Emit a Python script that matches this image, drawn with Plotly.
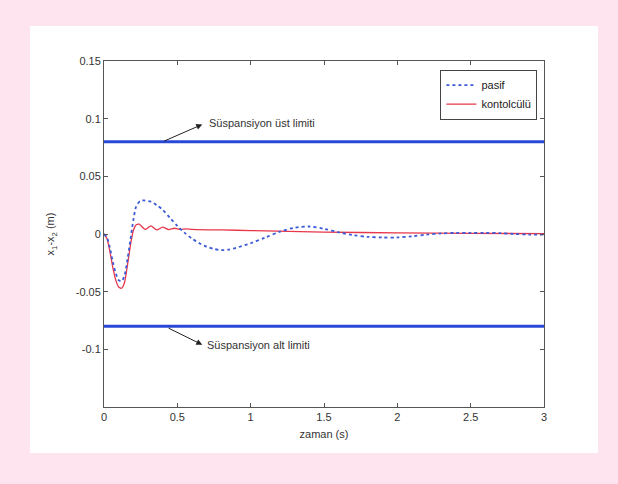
import plotly.graph_objects as go

# ---- data ----
t_pasif = [0, 0.02, 0.04, 0.06, 0.08, 0.10, 0.12, 0.14, 0.16, 0.18, 0.20, 0.22, 0.25, 0.28,
           0.32, 0.36, 0.40, 0.45, 0.50, 0.55, 0.60, 0.65, 0.70, 0.75, 0.80, 0.85, 0.90,
           1.0, 1.1, 1.2, 1.3, 1.4, 1.5, 1.6, 1.7, 1.8, 1.9, 2.0, 2.1, 2.2, 2.3, 2.4,
           2.5, 2.6, 2.7, 2.8, 2.9, 3.0]
pasif = [0, -0.003, -0.012, -0.024, -0.034, -0.040, -0.041, -0.036, -0.022, -0.005, 0.012,
         0.024, 0.029, 0.029, 0.028, 0.025, 0.021, 0.014, 0.007, 0.001, -0.004, -0.008,
         -0.011, -0.013, -0.014, -0.0135, -0.012, -0.008, -0.003, 0.002, 0.0055, 0.0065,
         0.0045, 0.0015, -0.001, -0.0025, -0.003, -0.003, -0.002, -0.0005, 0.0005, 0.001,
         0.001, 0.001, 0.0008, 0.0, -0.0005, -0.0005]

t_kontrol = [0, 0.02, 0.04, 0.06, 0.08, 0.10, 0.12, 0.14, 0.16, 0.18, 0.20, 0.22, 0.24,
             0.28, 0.32, 0.36, 0.40, 0.44, 0.48, 0.52, 0.56, 0.6, 0.8, 1.0, 1.5, 2.0,
             2.5, 3.0]
kontrol = [0, -0.004, -0.015, -0.029, -0.040, -0.046, -0.047, -0.042, -0.027, -0.010,
           0.003, 0.008, 0.0085, 0.004, 0.007, 0.0035, 0.006, 0.0038, 0.005, 0.004,
           0.0045, 0.004, 0.0035, 0.003, 0.0017, 0.001, 0.0006, 0.0003]

t_limit = [0, 3]
ust_limit = [0.08, 0.08]
alt_limit = [-0.08, -0.08]

y_ticks = [0.15, 0.1, 0.05, 0, -0.05, -0.1]
y_tick_text = ["0.15", "0.1", "0.05", "0", "-0.05", "-0.1"]
x_ticks = [0, 0.5, 1, 1.5, 2, 2.5, 3]
x_tick_text = ["0", "0.5", "1", "1.5", "2", "2.5", "3"]

FONT = "Liberation Sans, Arial, sans-serif"
AX = "#555555"
PINK = "#fde4ee"

fig = go.Figure()
fig.add_trace(go.Scatter(x=t_limit, y=ust_limit, mode="lines",
                         line=dict(color="#2a48d6", width=3), showlegend=False))
fig.add_trace(go.Scatter(x=t_limit, y=alt_limit, mode="lines",
                         line=dict(color="#2a48d6", width=3), showlegend=False))
fig.add_trace(go.Scatter(x=t_kontrol, y=kontrol, mode="lines", name="kontolcülü",
                         line=dict(color="#e8374a", width=1.3, shape="spline", smoothing=0.6)))
fig.add_trace(go.Scatter(x=t_pasif, y=pasif, mode="lines", name="pasif",
                         line=dict(color="#3a5ad8", width=1.8, dash="dot",
                                   shape="spline", smoothing=0.8)))

# white panel behind the axes
fig.add_shape(type="rect", xref="paper", yref="paper",
              x0=(30 - 104) / 440, x1=(598 - 104) / 440,
              y0=(407 - 453) / 346, y1=(407 - 26) / 346,
              fillcolor="white", line=dict(width=0), layer="below")

# arrows
fig.add_annotation(x=0.67, y=0.095, ax=0.40, ay=0.08, xref="x", yref="y",
                   axref="x", ayref="y", text="", showarrow=True,
                   arrowhead=2, arrowsize=1.2, arrowwidth=1, arrowcolor="#222")
fig.add_annotation(x=0.67, y=-0.096, ax=0.43, ay=-0.081, xref="x", yref="y",
                   axref="x", ayref="y", text="", showarrow=True,
                   arrowhead=2, arrowsize=1.2, arrowwidth=1, arrowcolor="#222")
fig.add_annotation(x=0.705, y=0.096, xref="x", yref="y", text="Süspansiyon üst limiti",
                   showarrow=False, xanchor="left", yanchor="middle",
                   font=dict(family=FONT, size=11, color="#333"))
fig.add_annotation(x=0.69, y=-0.096, xref="x", yref="y", text="Süspansiyon alt limiti",
                   showarrow=False, xanchor="left", yanchor="middle",
                   font=dict(family=FONT, size=11, color="#333"))

fig.update_layout(
    width=618, height=484,
    margin=dict(l=104, r=74, t=61, b=77),
    paper_bgcolor=PINK, plot_bgcolor="white",
    font=dict(family=FONT, size=11, color="#333"),
    legend=dict(x=0.985, y=0.975, xanchor="right", yanchor="top",
                bgcolor="white", bordercolor="#444", borderwidth=1,
                font=dict(family=FONT, size=11, color="#222"),
                traceorder="reversed", tracegroupgap=0, itemwidth=30),
    xaxis=dict(range=[0, 3], tickvals=x_ticks, ticktext=x_tick_text,
               ticks="inside", ticklen=4, tickcolor=AX, showline=True, linecolor=AX,
               mirror="ticks", showgrid=False, zeroline=False,
               title=dict(text="zaman (s)", standoff=8, font=dict(size=11))),
    yaxis=dict(range=[-0.15, 0.15], tickvals=y_ticks, ticktext=y_tick_text,
               ticks="inside", ticklen=4, tickcolor=AX, showline=True, linecolor=AX,
               mirror="ticks", showgrid=False, zeroline=False,
               title=dict(text="x<sub>1</sub>-x<sub>2</sub> (m)", standoff=18,
                          font=dict(size=11))),
)

fig.write_html("out.html", config={"displayModeBar": False},
               post_script="document.body.style.margin='0';"
                           "document.body.style.background='" + PINK + "';")
